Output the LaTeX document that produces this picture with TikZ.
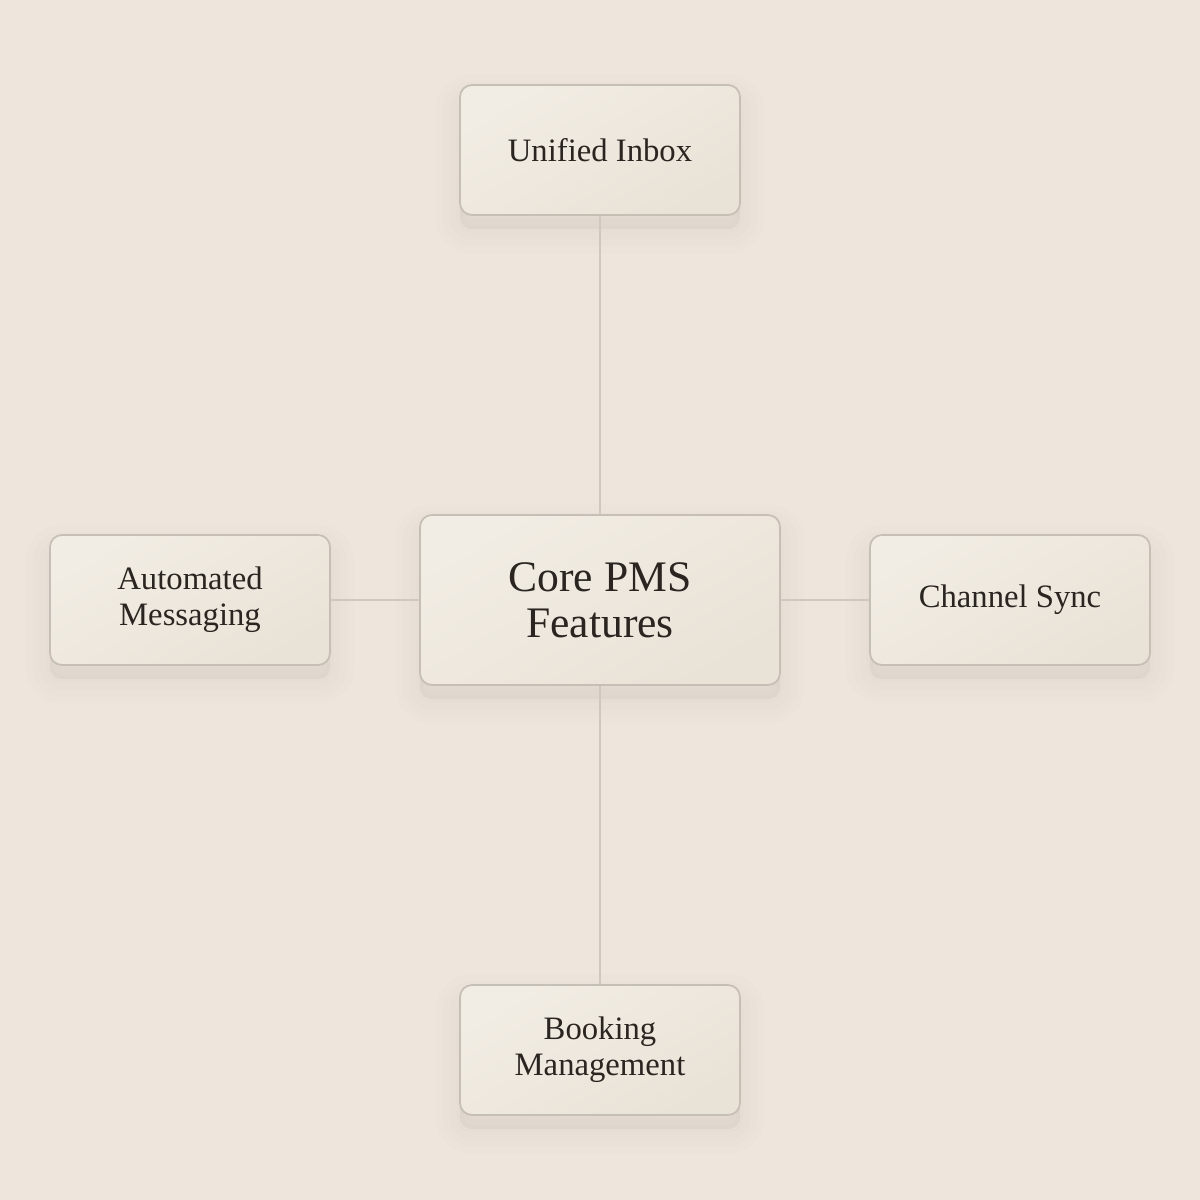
\documentclass[tikz,border=0pt]{standalone}
\usepackage{fontspec}
\setmainfont{Liberation Serif}
\definecolor{paper}{HTML}{EEE6DC}
\definecolor{boxtop}{HTML}{F2EDE4}
\definecolor{boxbot}{HTML}{E9E2D7}
\definecolor{boxline}{HTML}{C6BFB5}
\definecolor{wire}{HTML}{CFC8BE}
\definecolor{ink}{HTML}{2A2520}
\begin{document}
\begin{tikzpicture}[
    softshadow/.style={preaction={draw=black, fill=black, line width=#1,
        opacity=0.009, transform canvas={yshift=-4pt}}},
    feature/.style={draw=boxline, line width=0.5pt, rounded corners=0.12cm,
        softshadow=14pt, softshadow=10pt, softshadow=6pt, softshadow=2pt,
        top color=boxtop, bottom color=boxbot, shading angle=30,
        text=ink, align=center, font=\fontsize{9.3}{10.2}\selectfont,
        minimum width=2.8cm, minimum height=1.3cm, inner sep=0pt},
    core/.style={feature, minimum width=3.6cm, minimum height=1.7cm,
        font=\fontsize{12.4}{13.1}\selectfont},
    link/.style={draw=wire, line width=0.55pt}
]
    \fill[paper] (0,0) rectangle (12,12);
    \useasboundingbox (0,0) rectangle (12,12);

    \node[core]    (C) at (6,    6)    {Core PMS\\Features};
    \node[feature] (U) at (6,    10.5) {Unified Inbox};
    \node[feature] (A) at (1.9,  6)    {Automated\\Messaging};
    \node[feature] (S) at (10.1, 6)    {Channel Sync};
    \node[feature] (B) at (6,    1.5)  {Booking\\Management};

    \draw[link] (C) -- (U);
    \draw[link] (C) -- (A);
    \draw[link] (C) -- (S);
    \draw[link] (C) -- (B);
\end{tikzpicture}
\end{document}
